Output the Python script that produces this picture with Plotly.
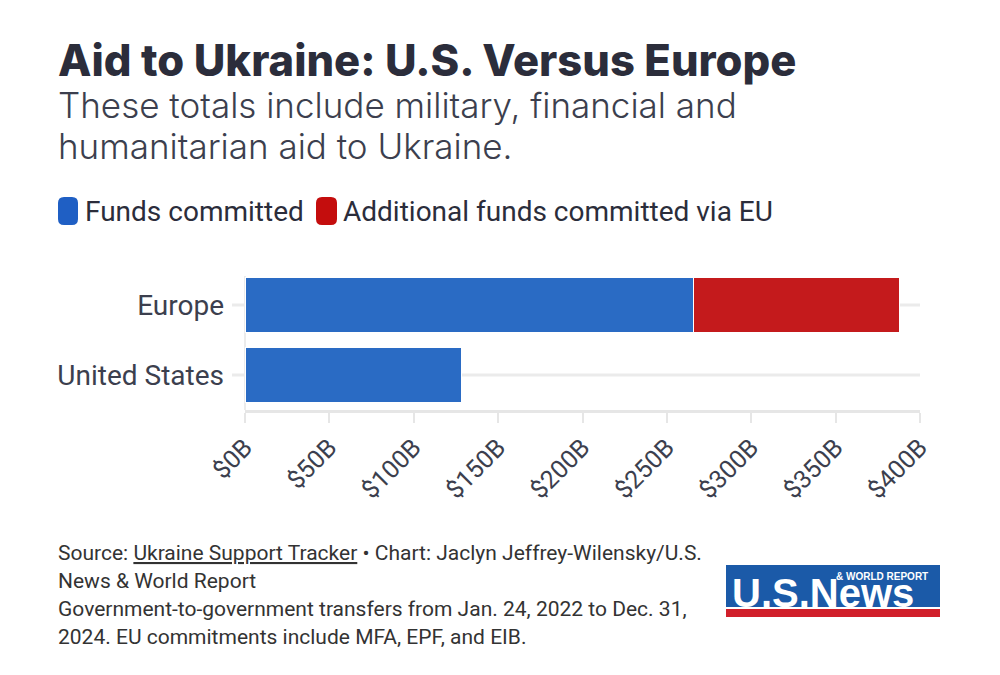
import plotly.graph_objects as go

categories = ["United States", "Europe"]
funds_committed = [128, 266]
eu_additional = [0, 122]
tick_values = [0, 50, 100, 150, 200, 250, 300, 350, 400]
tick_labels = [f"${v}B" for v in tick_values]

BLUE = "#2a6bc4"
RED = "#c41a1c"
DARK = "#2b2d3b"
GRAY_TXT = "#3c3f4e"
GRID = "#ebebeb"

OFF = 8  # page body margin in the browser
W, H = 1000, 675
# plot area in screenshot pixels
L, R, T, B = 245, 920, 270, 410


def xp(px):
    return (px - L) / (R - L)


def yp(py):
    return (B - py) / (B - T)


fig = go.Figure()
fig.add_trace(go.Bar(
    y=categories, x=funds_committed, orientation="h", name="Funds committed",
    marker=dict(color=BLUE, line=dict(color="white", width=1)),
))
fig.add_trace(go.Bar(
    y=categories, x=eu_additional, orientation="h", name="Additional funds committed via EU",
    marker=dict(color=RED, line=dict(color="white", width=1)),
))

shapes = []
for cy in (305, 375):
    shapes.append(dict(type="line", xref="paper", yref="paper", x0=xp(232), x1=1,
                       y0=yp(cy), y1=yp(cy), line=dict(color=GRID, width=3), layer="below"))
shapes.append(dict(type="line", xref="paper", yref="paper", x0=0, x1=0, y0=0, y1=yp(276),
                   line=dict(color=GRID, width=2), layer="below"))


def rounded(x0, y0, x1, y1, r):
    X0, X1 = xp(x0), xp(x1)
    Y0, Y1 = yp(y0), yp(y1)
    rx = r / (R - L)
    ry = r / (B - T)
    return (f"M {X0+rx},{Y0} L {X1-rx},{Y0} Q {X1},{Y0} {X1},{Y0-ry} "
            f"L {X1},{Y1+ry} Q {X1},{Y1} {X1-rx},{Y1} L {X0+rx},{Y1} "
            f"Q {X0},{Y1} {X0},{Y1+ry} L {X0},{Y0-ry} Q {X0},{Y0} {X0+rx},{Y0} Z")


shapes.append(dict(type="path", xref="paper", yref="paper", path=rounded(58, 197, 78, 225, 6),
                   fillcolor="#1f5fc4", line=dict(width=0)))
shapes.append(dict(type="path", xref="paper", yref="paper", path=rounded(316, 197, 337, 225, 6),
                   fillcolor="#c40d0d", line=dict(width=0)))

# logo
shapes.append(dict(type="rect", xref="paper", yref="paper", x0=xp(726), x1=xp(940),
                   y0=yp(607), y1=yp(565), fillcolor="#1b5aa8", line=dict(width=0)))
shapes.append(dict(type="rect", xref="paper", yref="paper", x0=xp(726), x1=xp(940),
                   y0=yp(617), y1=yp(609), fillcolor="#d11f2a", line=dict(width=0)))

ann = []


def text(px, py, s, size, color, family="Roboto", anchor="left", weight=None, yanchor="middle"):
    f = dict(size=size, color=color, family=family)
    if weight is not None:
        f["weight"] = weight
    ann.append(dict(xref="paper", yref="paper", x=xp(px), y=yp(py), text=s, showarrow=False,
                    xanchor=anchor, yanchor=yanchor, font=f))


text(56, 60, "Aid to Ukraine: U.S. Versus Europe", 43.5, DARK, "Inter", weight=800)
text(56, 105, "These totals include military, financial and", 35, GRAY_TXT, "Inter", weight=300)
text(56, 146, "humanitarian aid to Ukraine.", 35, GRAY_TXT, "Inter", weight=300)

text(83, 211, "Funds committed", 28, DARK)
text(341, 211, "Additional funds committed via EU", 28, DARK)

foot = "#333333"
text(56, 553, "Source: <u>Ukraine Support Tracker</u> • Chart: Jaclyn Jeffrey-Wilensky/U.S.", 21, foot)
text(56, 581, "News & World Report", 21, foot)
text(56, 609, "Government-to-government transfers from Jan. 24, 2022 to Dec. 31,", 21, foot)
text(56, 637, "2024. EU commitments include MFA, EPF, and EIB.", 21, foot)

# logo texts
text(730, 593, "<b>U.S.News</b>", 40, "white", "Liberation Sans")
text(834, 576, "<b>&amp; WORLD REPORT</b>", 10, "white", "Liberation Sans")

fig.update_layout(
    width=W, height=H,
    margin=dict(l=L - OFF, r=W - R + OFF, t=T - OFF, b=H - B + OFF, pad=0),
    barmode="stack", bargap=0.22,
    plot_bgcolor="white", paper_bgcolor="white",
    showlegend=False,
    shapes=shapes, annotations=ann,
    font=dict(family="Roboto", color=GRAY_TXT),
    xaxis=dict(range=[0, 400], tickmode="array", tickvals=tick_values, ticktext=tick_labels,
               tickangle=-45, showgrid=False, zeroline=False,
               showline=True, linecolor="#e6e6e6", linewidth=3,
               ticks="outside", ticklen=10, tickwidth=2, tickcolor="#e6e6e6",
               tickfont=dict(size=25, color=GRAY_TXT, family="Roboto"), fixedrange=True),
    yaxis=dict(categoryorder="array", categoryarray=categories, showgrid=False,
               zeroline=False, showline=False, ticks="", ticklabelstandoff=20,
               tickfont=dict(size=28, color=GRAY_TXT, family="Roboto"), fixedrange=True),
)

fig.write_html("out.html")
